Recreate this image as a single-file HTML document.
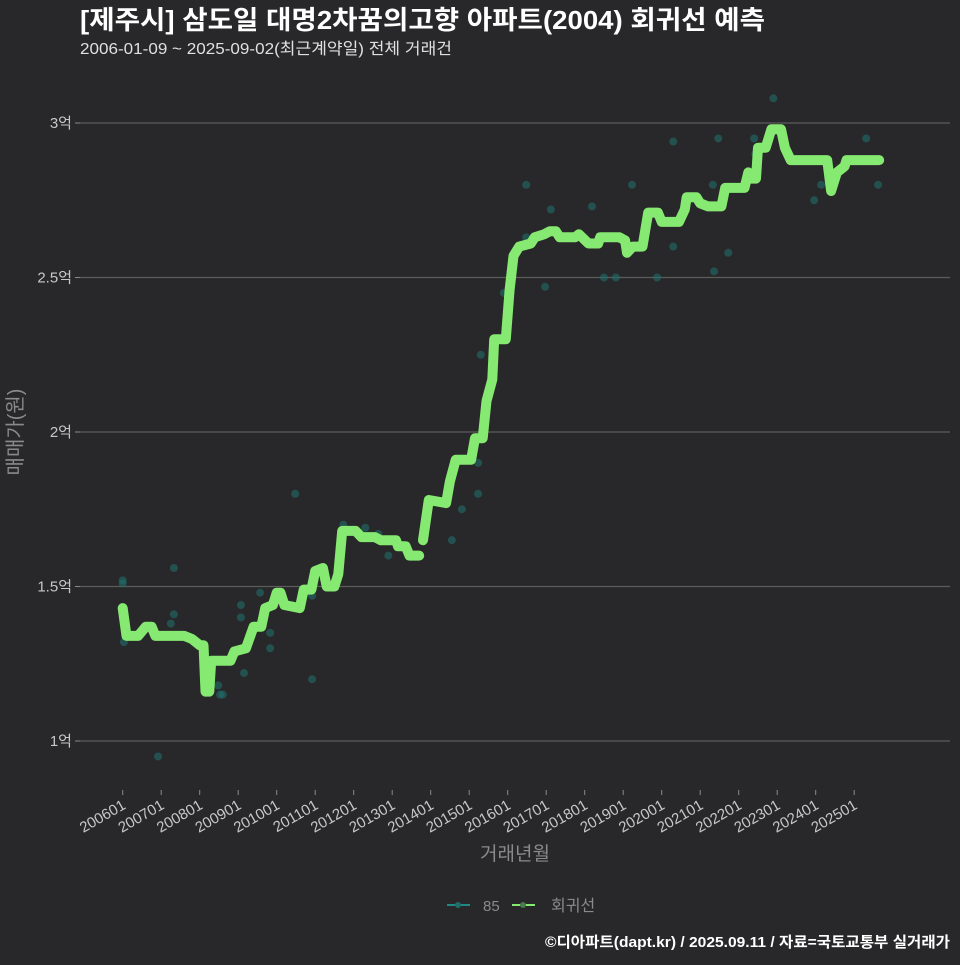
<!DOCTYPE html>
<html><head><meta charset="utf-8"><style>
body{margin:0;background:#282729;}
svg text{font-family:"Liberation Sans","Noto Sans CJK KR",sans-serif;}
</style></head><body>
<svg width="960" height="960" viewBox="0 0 960 960">
<rect width="960" height="960" fill="#282729"/>
<text x="80" y="29" fill="#ffffff" font-size="26" font-weight="bold" textLength="685" lengthAdjust="spacingAndGlyphs">[제주시] 삼도일 대명2차꿈의고향 아파트(2004) 회귀선 예측</text>
<text x="80" y="54" fill="#e0e0e0" font-size="16" textLength="372" lengthAdjust="spacingAndGlyphs">2006-01-09 ~ 2025-09-02(최근계약일) 전체 거래건</text>
<g id="grid"></g>
<g id="xaxis"></g>
<g id="pts"></g>
<g id="line"></g>
<text x="22" y="432" fill="#8a8a8a" font-size="20" text-anchor="middle" transform="rotate(-90 22 432)">매매가(원)</text>
<text x="515" y="860" fill="#8a8a8a" font-size="19" text-anchor="middle">거래년월</text>
<g>
<g><line x1="447" y1="905" x2="470" y2="905" stroke="#1f8a84" stroke-width="2"/><circle cx="458" cy="905" r="3" fill="#1f6e6a"/><text x="483" y="911" fill="#8a8a8a" font-size="15">85</text></g>
<g><line x1="512" y1="905" x2="535" y2="905" stroke="#86e971" stroke-width="2"/><circle cx="523" cy="905" r="3" fill="#4a7a4a"/><text x="551" y="911" fill="#8a8a8a" font-size="16">회귀선</text></g>
</g>
<text x="950" y="947" fill="#ffffff" font-size="15" font-weight="bold" text-anchor="end" textLength="405" lengthAdjust="spacingAndGlyphs">©디아파트(dapt.kr) / 2025.09.11 / 자료=국토교통부 실거래가</text>
</svg>
<script>
const yTicks=[1,1.5,2,2.5,3];
const yTickLabels=["1억","1.5억","2억","2.5억","3억"];
const xTickYears=[2006,2007,2008,2009,2010,2011,2012,2013,2014,2015,2016,2017,2018,2019,2020,2021,2022,2023,2024,2025];
const xTickLabels=["200601","200701","200801","200901","201001","201101","201201","201301","201401","201501","201601","201701","201801","201901","202001","202101","202201","202301","202401","202501"];
const scatterYears=[2006.0,2006.0,2006.03,2007.25,2007.33,2007.33,2006.92,2008.48,2008.53,2008.6,2009.07,2009.07,2009.15,2009.57,2009.83,2009.83,2010.92,2010.92,2010.48,2011.73,2012.3,2012.64,2012.9,2014.55,2014.81,2015.23,2015.23,2015.3,2015.9,2016.48,2016.48,2016.97,2017.12,2018.19,2018.5,2018.81,2019.23,2019.88,2020.3,2020.3,2021.33,2021.36,2021.47,2021.73,2022.4,2022.43,2022.9,2023.96,2024.14,2025.31,2025.62];
const scatterValues=[1.52,1.51,1.32,1.38,1.41,1.56,0.95,1.18,1.15,1.15,1.44,1.40,1.22,1.48,1.35,1.30,1.20,1.47,1.80,1.70,1.69,1.67,1.60,1.65,1.75,1.80,1.90,2.25,2.45,2.80,2.63,2.47,2.72,2.73,2.50,2.50,2.80,2.50,2.94,2.60,2.80,2.52,2.95,2.58,2.95,2.90,3.08,2.75,2.80,2.95,2.80];
const lineYears=[2006.0,2006.1,2006.4,2006.6,2006.75,2006.85,2007.6,2007.8,2008.0,2008.1,2008.15,2008.25,2008.3,2008.8,2008.9,2009.2,2009.4,2009.6,2009.7,2009.9,2010.0,2010.1,2010.2,2010.6,2010.7,2010.9,2011.0,2011.2,2011.3,2011.5,2011.6,2011.7,2012.05,2012.2,2012.55,2012.7,2013.1,2013.15,2013.35,2013.45,2013.7,null,2013.8,2013.95,2014.4,2014.5,2014.65,2015.05,2015.15,2015.35,2015.45,2015.6,2015.65,2015.95,2016.05,2016.15,2016.3,2016.6,2016.7,2016.95,2017.1,2017.25,2017.35,2017.75,2017.85,2018.1,2018.35,2018.4,2018.9,2019.05,2019.1,2019.25,2019.5,2019.65,2019.9,2020.0,2020.45,2020.6,2020.65,2020.9,2021.0,2021.2,2021.55,2021.65,2022.15,2022.25,2022.3,2022.45,2022.5,2022.7,2022.85,2023.1,2023.2,2023.35,2024.3,2024.4,2024.55,2024.75,2024.8,2025.65];
const lineValues=[1.43,1.34,1.34,1.37,1.37,1.34,1.34,1.33,1.31,1.31,1.16,1.16,1.26,1.26,1.29,1.30,1.37,1.37,1.43,1.44,1.48,1.48,1.44,1.43,1.49,1.49,1.55,1.56,1.50,1.50,1.54,1.68,1.68,1.66,1.66,1.65,1.65,1.63,1.63,1.60,1.60,null,1.65,1.78,1.77,1.84,1.91,1.91,1.98,1.98,2.10,2.17,2.30,2.30,2.46,2.57,2.60,2.61,2.63,2.64,2.65,2.65,2.63,2.63,2.64,2.61,2.61,2.63,2.63,2.62,2.58,2.60,2.60,2.71,2.71,2.68,2.68,2.72,2.76,2.76,2.74,2.73,2.73,2.79,2.79,2.84,2.82,2.82,2.92,2.92,2.98,2.98,2.92,2.88,2.88,2.78,2.84,2.86,2.88,2.88];
const NS="http://www.w3.org/2000/svg";
function xs(yr){return 122.7+(yr-2006)*38.5;}
function ys(v){return 741-(v-1)*309;}
function mk(tag,attrs,parent){const e=document.createElementNS(NS,tag);for(const k in attrs)e.setAttribute(k,attrs[k]);parent.appendChild(e);return e;}
const grid=document.getElementById('grid');
yTicks.forEach((t,i)=>{
  const l=mk('line',{x1:80,x2:950,y1:ys(t),y2:ys(t),stroke:'#5c5c5c','stroke-width':1.2},grid);
  
  
  mk('line',{x1:75,x2:80,y1:ys(t),y2:ys(t),stroke:'#8a8a8a'},grid);
  const tx=mk('text',{x:72,y:ys(t)+5,fill:'#c8c8c8','font-size':15,'text-anchor':'end'},grid);
  tx.textContent=yTickLabels[i];
  
  
});
const xa=document.getElementById('xaxis');
xTickYears.forEach((yr,i)=>{
  const x=xs(yr);
  mk('line',{x1:x,x2:x,y1:790,y2:795,stroke:'#8a8a8a'},xa);
  const tx=mk('text',{x:x+4,y:808,fill:'#c8c8c8','font-size':15,'text-anchor':'end',transform:`rotate(-30 ${x+4} 808)`},xa);
  tx.textContent=xTickLabels[i];
  
  
});
const pts=document.getElementById('pts');
scatterYears.forEach((yr,i)=>{
  const c=mk('circle',{cx:xs(yr),cy:ys(scatterValues[i]),r:4,fill:'#1f6e6a','fill-opacity':0.6},pts);
  
  
});
const lg=document.getElementById('line');
let segs=[],cur=[];
lineYears.forEach((yr,i)=>{if(yr===null){segs.push(cur);cur=[];}else cur.push(xs(yr).toFixed(1)+','+ys(lineValues[i]).toFixed(1));});
segs.push(cur);
segs.forEach(s=>{
  const p=mk('polyline',{points:s.join(' '),fill:'none',stroke:'#86e971','stroke-width':10,'stroke-linecap':'round','stroke-linejoin':'round'},lg);
  
  
});
</script>
</body></html>
